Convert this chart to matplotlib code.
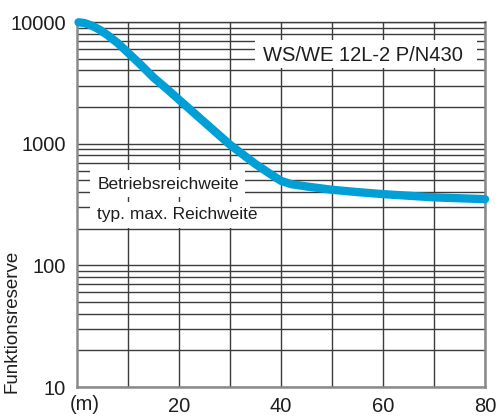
import matplotlib.pyplot as plt
from matplotlib.patches import Rectangle

plt.rcParams['font.family'] = ['Liberation Sans', 'DejaVu Sans']

# range in m and Funktionsreserve
dist = [0.3, 1.5, 3, 4.5, 6, 8, 10, 12.5, 15, 17.5, 20, 25, 30, 35, 38,
        40, 42, 45, 50, 55, 60, 70, 80]
reserve = [9950, 9800, 9300, 8600, 7800, 6700, 5600, 4450, 3500, 2850, 2300,
           1500, 980, 680, 560, 495, 465, 445, 418, 400, 385, 362, 350]

x_ticks = [20, 40, 60, 80]
y_ticks = [10, 100, 1000, 10000]
y_labels = ['10', '100', '1000', '10000']

fig = plt.figure(figsize=(4.99, 4.17), dpi=100)
ax = fig.add_axes([0.1543, 0.0719, 0.8177, 0.8753])

ax.set_yscale('log')
ax.set_xlim(0, 80)
ax.set_ylim(10, 10000)

ax.set_xticks(range(10, 81, 10), minor=True)
ax.set_xticks(x_ticks)
ax.set_xticklabels([str(t) for t in x_ticks])
ax.set_yticks(y_ticks)
ax.set_yticklabels(y_labels)
ax.tick_params(which='both', length=0, labelsize=14.5, labelcolor='#1e1e1e')
ax.tick_params(axis='y', pad=8)
ax.tick_params(axis='x', pad=7)

ax.grid(True, which='both', color='#3c3c3c', lw=1.0)
ax.set_axisbelow(True)
for s in ax.spines.values():
    s.set_color('#8a8a8a')
    s.set_linewidth(1.8)
ax.spines['top'].set_color('#3c3c3c')
ax.spines['top'].set_linewidth(1.0)

# white label boxes hiding the grid
boxes = [(0.437, 0.874, 0.543, 0.077),
         (0.032, 0.520, 0.380, 0.075),
         (0.032, 0.436, 0.392, 0.071)]
for bx, by, bw, bh in boxes:
    ax.add_patch(Rectangle((bx, by), bw, bh, transform=ax.transAxes,
                           facecolor='white', edgecolor='none', zorder=2))

ax.text(0.701, 0.909, 'WS/WE 12L-2 P/N430', transform=ax.transAxes,
        ha='center', va='center', fontsize=14.5, color='#1e1e1e', zorder=3)
ax.text(0.223, 0.556, 'Betriebsreichweite', transform=ax.transAxes,
        ha='center', va='center', fontsize=12.5, color='#1e1e1e', zorder=3)
ax.text(0.049, 0.474, 'typ. max. Reichweite', transform=ax.transAxes,
        ha='left', va='center', fontsize=12.5, color='#1e1e1e', zorder=3)

ax.plot(dist, reserve, color='#00a0d6', lw=6, solid_capstyle='round',
        solid_joinstyle='round', zorder=4, clip_on=False)

ax.text(0.018, -0.047, '(m)', transform=ax.transAxes, ha='center', va='center',
        fontsize=14.5, color='#1e1e1e')
fig.text(12 / 499, (417 - 393) / 417, 'Funktionsreserve', rotation=90,
         ha='center', va='bottom', fontsize=13.5, color='#1e1e1e')

fig.savefig('out.png', dpi=100)
